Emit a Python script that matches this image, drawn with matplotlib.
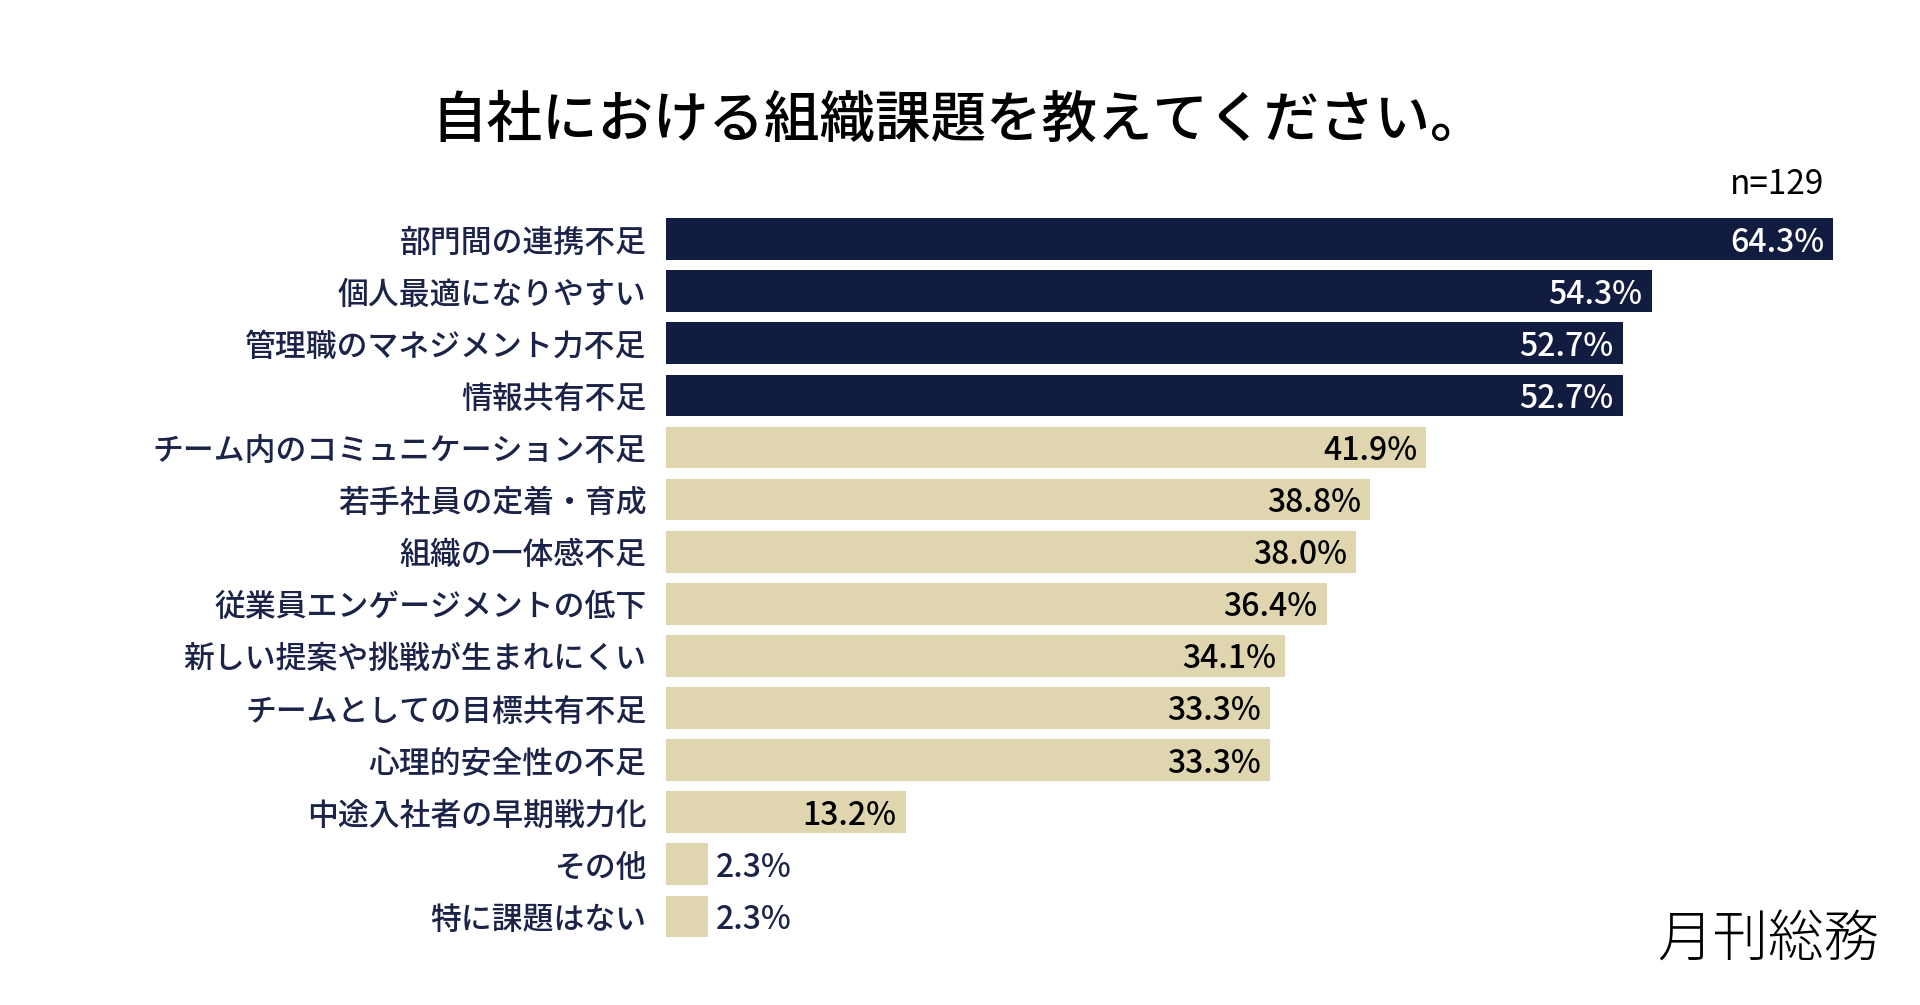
import matplotlib
matplotlib.use("Agg")
import matplotlib.pyplot as plt

plt.rcParams['font.family'] = ['Noto Sans CJK JP', 'DejaVu Sans']

categories = [
    "部門間の連携不足",
    "個人最適になりやすい",
    "管理職のマネジメント力不足",
    "情報共有不足",
    "チーム内のコミュニケーション不足",
    "若手社員の定着・育成",
    "組織の一体感不足",
    "従業員エンゲージメントの低下",
    "新しい提案や挑戦が生まれにくい",
    "チームとしての目標共有不足",
    "心理的安全性の不足",
    "中途入社者の早期戦力化",
    "その他",
    "特に課題はない",
]
values = [64.3, 54.3, 52.7, 52.7, 41.9, 38.8, 38.0, 36.4, 34.1, 33.3, 33.3, 13.2, 2.3, 2.3]
highlight_count = 4

title = "自社における組織課題を教えてください。"
sample_note = "n=129"
logo_text = "月刊総務"

NAVY = "#121c40"
BEIGE = "#dfd6b0"
LABEL = "#1b2448"

W, H = 1920, 1005
fig = plt.figure(figsize=(W / 100, H / 100), dpi=100)
fig.patch.set_facecolor("white")

ax_left = 666 / W
ax_width = 1198 / W
top_px = 213
bot_px = 942.5
ax = fig.add_axes([ax_left, 1 - bot_px / H, ax_width, (bot_px - top_px) / H])

ypos = list(range(len(categories)))
colors = [NAVY if i < highlight_count else BEIGE for i in ypos]
ax.barh(ypos, values, height=0.8, color=colors, edgecolor="none")
ax.set_xlim(0, 1198 / 18.15)
ax.set_ylim(len(categories) - 0.5, -0.5)

ax.set_yticks(ypos)
ax.set_yticklabels(categories, fontsize=22.2, color=LABEL, fontweight="medium")
ax.tick_params(axis="y", length=0, pad=14)
ax.set_xticks([])
for s in ax.spines.values():
    s.set_visible(False)

for i, v in enumerate(values):
    txt = f"{v:.1f}%"
    if v < 5:
        ax.annotate(txt, (v, i), xytext=(6, -2.5), textcoords="offset points",
                    ha="left", va="center", fontsize=23, color=LABEL,
                    fontweight="medium")
    else:
        col = "white" if i < highlight_count else "black"
        ax.annotate(txt, (v, i), xytext=(-6.5, -2.5), textcoords="offset points",
                    ha="right", va="center", fontsize=23, color=col,
                    fontweight="medium")

fig.text(959 / W, 1 - 121 / H, title, ha="center", va="center",
         fontsize=40, color="black", fontweight="medium")
fig.text(1824 / W, 1 - 184 / H, sample_note, ha="right", va="center",
         fontsize=24, color="black")
fig.text(1768 / W, 1 - 940 / H, logo_text, ha="center", va="center",
         fontsize=40, color="black", fontweight="light")

fig.savefig("out.png", dpi=100, facecolor="white")
